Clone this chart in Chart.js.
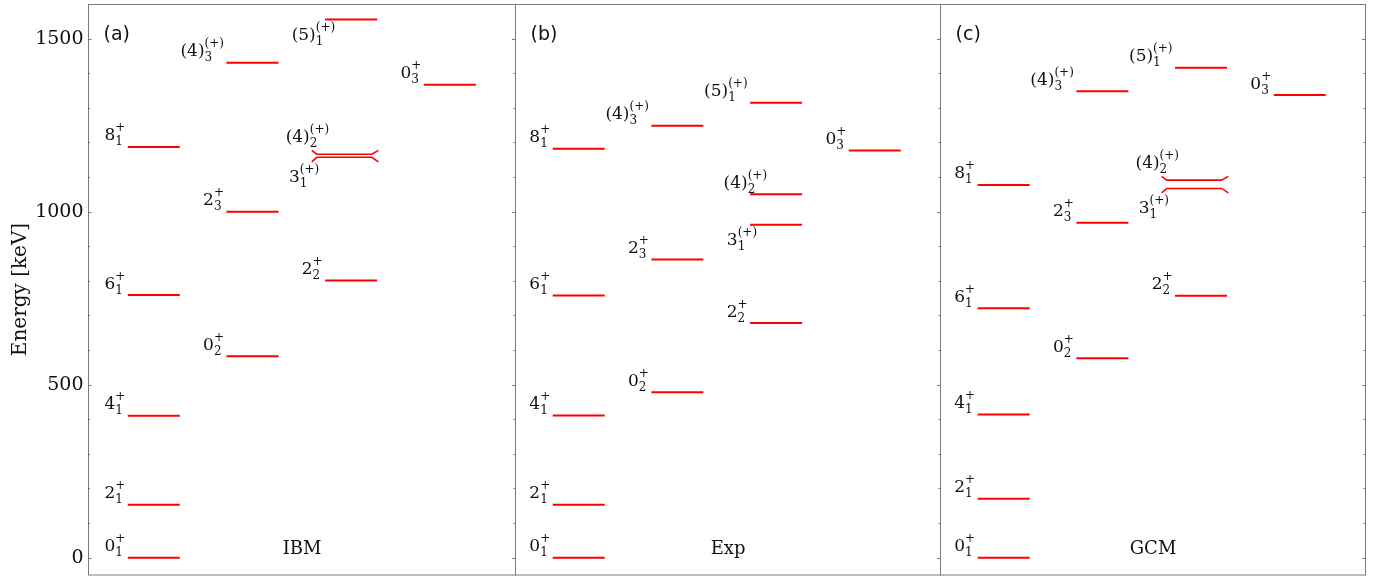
<!DOCTYPE html>
<html>
<head>
<meta charset="utf-8">
<title>Level schemes: IBM / Exp / GCM</title>
<script src="https://cdn.jsdelivr.net/npm/chart.js@4.4.1/dist/chart.umd.min.js"></script>
<style>
  html, body { margin: 0; padding: 0; background: #fff; }
  #wrap { width: 1384px; height: 576px; }
</style>
</head>
<body>
<div id="wrap"><canvas id="levels" width="1384" height="576"></canvas></div>
<script>
// --- data (energies in keV) ---
const models = ['IBM', 'Exp', 'GCM'];
const panelTags = ['(a)', '(b)', '(c)'];

// label of each level is  spin^parity_index
const spins    = ['0', '2', '4', '6', '8', '0', '2', '(4)', '2', '3',   '(4)', '(5)', '0'];
const indices  = ['1', '1', '1', '1', '1', '2', '3', '3',   '2', '1',   '2',   '1',   '3'];
const parities = ['+', '+', '+', '+', '+', '+', '+', '(+)', '+', '(+)', '(+)', '(+)', '+'];
const columns  = [0, 0, 0, 0, 0, 1, 1, 1, 2, 2, 2, 2, 3];

const ibmEnergies = [0, 153, 410, 759, 1187, 582, 1000, 1430, 801, 1157, 1166, 1555, 1367];
const expEnergies = [0, 153, 411, 758, 1182, 478, 862, 1248, 678, 962, 1050, 1315, 1177];
const gcmEnergies = [0, 170, 414, 721, 1077, 576, 968, 1348, 757, 1067, 1091, 1416, 1337];

const energyTicks = [0, 500, 1000, 1500];
const energyMin = -50;
const energyMax = 1600;

// 3_1 and (4)_2 are nearly degenerate in the models -> drawn as a bracketed pair
const LOWER = 9, UPPER = 10, TOP = 11;
const pairedPanels = [true, false, true];

// --- layout (x in column units) ---
const panelEnds = [4.328, 8.634, 12.94];
const COL_OFFSET = 3.925;   // first column start, measured from panel right edge
const LEVEL_W = 0.527;
const RED = '#ff0000';
const FRAME = '#7a7a7a';
const MAIN_FONT = '17px "DejaVu Serif"';
const SCRIPT_FONT = '12px "DejaVu Serif"';

const energySets = [ibmEnergies, expEnergies, gcmEnergies];

function colLeft(p, c) { return panelEnds[p] - COL_OFFSET + c; }

const datasets = [];
energySets.forEach((energies, p) => {
    const pts = [];
    energies.forEach((e, i) => {
        if (pairedPanels[p] && (i === LOWER || i === UPPER)) return;
        const x0 = colLeft(p, columns[i]);
        pts.push({ x: x0, y: e }, { x: x0 + LEVEL_W, y: e }, { x: x0 + LEVEL_W + 0.01, y: null });
    });
    datasets.push({ label: models[p], data: pts, borderColor: RED, borderWidth: 2, pointRadius: 0, spanGaps: false });

    if (pairedPanels[p]) {
        // bracket: both ends bend away from the partner line
        [[UPPER, 11], [LOWER, -13]].forEach(([i, flare]) => {
            const x0 = colLeft(p, columns[i]);
            const e = energies[i];
            datasets.push({
                label: models[p] + ' pair',
                data: [
                    { x: x0 - 0.135, y: e + flare },
                    { x: x0 - 0.085, y: e },
                    { x: x0 + 0.473, y: e },
                    { x: x0 + 0.54, y: e + flare }
                ],
                borderColor: RED, borderWidth: 1.6, pointRadius: 0, borderJoinStyle: 'miter'
            });
        });
    }
});

function drawLevelLabel(ctx, xRight, yLine, spin, idx, par) {
    ctx.font = MAIN_FONT;
    const wMain = ctx.measureText(spin).width;
    ctx.font = SCRIPT_FONT;
    const wScript = Math.max(ctx.measureText(idx).width, ctx.measureText(par).width);
    const x0 = xRight - wMain - wScript;
    ctx.textAlign = 'left';
    ctx.textBaseline = 'alphabetic';
    ctx.font = MAIN_FONT;
    ctx.fillText(spin, x0, yLine - 6.5);
    ctx.font = SCRIPT_FONT;
    ctx.fillText(idx, x0 + wMain, yLine - 1.5);
    ctx.fillText(par, x0 + wMain, yLine - 15.5);
}

// frames, inward ticks, level labels, panel texts
const decorations = {
    id: 'decorations',
    afterDatasetsDraw(chart) {
        const { ctx, chartArea: a, scales: { x, y } } = chart;
        ctx.save();

        // frames
        ctx.strokeStyle = FRAME;
        ctx.lineWidth = 1;
        let left = a.left;
        panelEnds.forEach(end => {
            const right = Math.round(x.getPixelForValue(end)) + 0.5;
            ctx.strokeRect(Math.round(left) + 0.5, a.top + 0.5, right - Math.round(left) - 0.5, a.bottom - a.top - 0.5);
            left = right - 0.5;
        });

        // ticks (inward): left side of panel (a), right side of every panel
        for (let v = 0; v < energyMax; v += 100) {
            const py = Math.round(y.getPixelForValue(v)) + 0.5;
            const len = v % 500 === 0 ? 3.5 : 2;
            ctx.beginPath();
            ctx.moveTo(a.left, py); ctx.lineTo(a.left + len, py);
            panelEnds.forEach(end => {
                const px = Math.round(x.getPixelForValue(end)) + 0.5;
                ctx.moveTo(px, py); ctx.lineTo(px - len, py);
            });
            ctx.stroke();
        }

        // level labels (a few are moved to avoid crowding, as in the original)
        ctx.fillStyle = '#111';
        energySets.forEach((energies, p) => {
            energies.forEach((e, i) => {
                const xl = x.getPixelForValue(colLeft(p, columns[i]));
                let xr = xl - 2.5;
                let yl = y.getPixelForValue(e);
                if (pairedPanels[p] && i === UPPER) { xr = xl + 4; yl -= 5.8; }
                else if (pairedPanels[p] && i === LOWER) { xr = xl - 6; yl += 31.5; }
                else if (!pairedPanels[p] && i === UPPER) { xr = xl + 17; }
                else if (!pairedPanels[p] && i === LOWER) { xr = xl + 7; yl += 26.5; }
                else if (p === 0 && i === TOP) { xr = xl + 10; yl += 26.5; }
                drawLevelLabel(ctx, xr, yl, spins[i], indices[i], parities[i]);
            });
        });

        // panel tags and model names
        let start = a.left;
        panelEnds.forEach((end, p) => {
            const pr = x.getPixelForValue(end);
            ctx.font = '19px "DejaVu Sans"';
            ctx.textAlign = 'left';
            ctx.textBaseline = 'alphabetic';
            ctx.fillText(panelTags[p], start + 15.5, 39.5);
            ctx.font = '18px "DejaVu Serif"';
            ctx.textAlign = 'center';
            ctx.fillText(models[p], (start + pr) / 2 + 0.5, y.getPixelForValue(10));
            start = pr;
        });
        ctx.restore();
    }
};

new Chart(document.getElementById('levels'), {
    type: 'line',
    data: { datasets },
    options: {
        responsive: false,
        animation: false,
        devicePixelRatio: 1,
        layout: { padding: { left: 0, right: 19, top: 4, bottom: 1 } },
        plugins: { legend: { display: false }, tooltip: { enabled: false } },
        elements: { line: { tension: 0, borderCapStyle: 'butt' } },
        scales: {
            x: { type: 'linear', min: 0, max: panelEnds[2], display: false },
            y: {
                type: 'linear',
                min: energyMin,
                max: energyMax,
                afterBuildTicks: s => { s.ticks = energyTicks.map(v => ({ value: v })); },
                afterFit: s => { s.width = 88; s.paddingTop = 0; s.paddingBottom = 0; },
                border: { display: false },
                grid: { drawOnChartArea: false, drawTicks: false },
                ticks: {
                    autoSkip: false,
                    padding: 4.5,
                    color: '#111',
                    font: { family: '"DejaVu Serif"', size: 19 },
                    callback: v => String(v)
                },
                title: {
                    display: true,
                    text: 'Energy [keV]',
                    color: '#111',
                    font: { family: '"DejaVu Serif"', size: 20 },
                    padding: { top: 9, bottom: 0 }
                }
            }
        }
    },
    plugins: [decorations]
});
</script>
</body>
</html>
